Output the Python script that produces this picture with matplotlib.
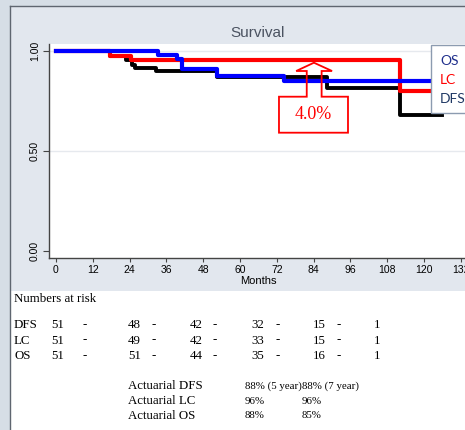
"""
Kaplan-Meier curves (DFS, LC, OS) with numbers at risk and actuarial rates.
"""
import matplotlib
matplotlib.use("Agg")
import matplotlib.pyplot as plt
from matplotlib.patches import Polygon, Rectangle

W, H = 465, 430

# survival steps (months, estimate)
os_t = [0, 33.3, 39.4, 41.0, 52.4, 74.4, 124]
os_s = [1.0, 0.982, 0.96, 0.912, 0.873, 0.848, 0.848]

lc_t = [0, 17.6, 24.3, 112.0, 122]
lc_s = [1.0, 0.976, 0.957, 0.80, 0.80]

dfs_t = [0, 17.6, 22.8, 24.7, 25.8, 32.5, 52.4, 88.5, 112.0, 126]
dfs_s = [1.0, 0.976, 0.955, 0.932, 0.915, 0.898, 0.872, 0.815, 0.678, 0.678]

month_ticks = list(range(0, 133, 12))
surv_ticks = [0.0, 0.5, 1.0]

legend_labels = ["OS", "LC", "DFS"]
legend_colors = ["#1F2F8C", "#FF0000", "#1F3864"]

risk_groups = ["DFS", "LC", "OS"]
risk_counts = [
    [51, 48, 42, 32, 15, 1],
    [51, 49, 42, 33, 15, 1],
    [51, 51, 44, 35, 16, 1],
]

act_labels = ["Actuarial DFS", "Actuarial LC", "Actuarial OS"]
act_col1 = ["88% (5 year)", "96%", "88%"]
act_col2 = ["88% (7 year)", "96%", "85%"]

callout_text = "4.0%"


def px(x, y):
    """pixel position (from top-left) -> figure fraction"""
    return x / W, 1 - y / H


fig = plt.figure(figsize=(W / 100, H / 100), dpi=100, facecolor="#D6DEE6")

# graph panel + white area underneath
fig.patches.append(Rectangle(px(10, 291), (W - 10) / W, (291 - 6) / H,
                             transform=fig.transFigure, facecolor="#E2E7EE",
                             edgecolor="none", zorder=-5))
fig.patches.append(Rectangle(px(10, H + 2), (W - 10) / W, (H + 2 - 291) / H,
                             transform=fig.transFigure, facecolor="white",
                             edgecolor="none", zorder=-5))
fig.lines.append(plt.Line2D([10 / W, 10 / W], [0, 1 - 6 / H], transform=fig.transFigure,
                            color="#5F6670", lw=1.0, zorder=-4))
fig.lines.append(plt.Line2D([10 / W, 1], [1 - 6 / H, 1 - 6 / H], transform=fig.transFigure,
                            color="#5F6670", lw=1.0, zorder=-4))

x0, y0 = px(49, 258)
ax = fig.add_axes([x0, y0, (467 - 49) / W, (258 - 44) / H])
ax.set_facecolor("white")
ax.set_xlim(-2.28, 134.0)
ax.set_ylim(-0.035, 1.035)

for y in (0.5, 1.0):
    ax.axhline(y, color="#E6E9EE", lw=1.0, zorder=1)

ax.step(dfs_t, dfs_s, where="post", color="black", lw=2.8, zorder=3)
ax.step(lc_t, lc_s, where="post", color="#FF0000", lw=3.0, zorder=4)
ax.step(os_t, os_s, where="post", color="#0000FF", lw=3.0, zorder=5)

ax.set_xticks(month_ticks)
ax.set_yticks(surv_ticks)
ax.set_yticklabels([f"{v:.2f}" for v in surv_ticks], rotation=90, va="center")
ax.tick_params(axis="x", length=3, width=0.8, colors="#444444", labelsize=7.5, pad=2,
               labelcolor="black")
ax.tick_params(axis="y", length=4.5, width=0.8, colors="#444444", labelsize=7.5, pad=2,
               labelcolor="black")
for lab in ax.get_xticklabels() + ax.get_yticklabels():
    lab.set_fontfamily("Liberation Sans")
ax.spines["top"].set_visible(False)
ax.spines["right"].set_visible(False)
for s in ("left", "bottom"):
    ax.spines[s].set_color("#444444")
    ax.spines[s].set_linewidth(1.0)

ax.set_xlabel("Months", fontsize=8, family="Liberation Sans", labelpad=1)
fig.text(*px(258, 33), "Survival", ha="center", va="center", fontsize=11,
         family="Liberation Sans", color="#4A5260")

# up-arrow callout pointing at the LC curve
callout = [(72.7, 0.5915), (95.2, 0.5915), (95.2, 0.7715), (86.6, 0.7715),
           (86.6, 0.90), (90.0, 0.90), (84.1, 0.9415), (78.3, 0.90),
           (81.75, 0.90), (81.75, 0.7715), (72.7, 0.7715)]
ax.add_patch(Polygon(callout, closed=True, fill=False, edgecolor="#FF0000",
                     lw=1.3, zorder=6, clip_on=False))
ax.text(83.95, 0.68, callout_text, ha="center", va="center", fontsize=13,
        family="Liberation Serif", color="#FF0000", zorder=7)

# legend box
fig.patches.append(Rectangle(px(431, 113), 40 / W, 68 / H, transform=fig.transFigure,
                             facecolor="white", edgecolor="#8C9BB0", lw=1.0, zorder=8))
for i, (lab, col) in enumerate(zip(legend_labels, legend_colors)):
    fig.text(*px(440, 61 + 19 * i), lab, ha="left", va="center", fontsize=10,
             family="Lato", color=col, zorder=9)

# numbers at risk
serif = "Liberation Serif"
fs = 9.3
fig.text(*px(14, 299), "Numbers at risk", ha="left", va="center", fontsize=fs, family=serif)
num_x = [51.7, 128, 190, 251.7, 313, 374.3]
dash_x = [82.7, 151.7, 213, 276, 336.7]
for r, (grp, counts) in enumerate(zip(risk_groups, risk_counts)):
    ry = 325 + 15.5 * r
    fig.text(*px(14, ry), grp, ha="left", va="center", fontsize=fs, family=serif)
    for xx, n in zip(num_x, counts):
        fig.text(*px(xx, ry), str(n), ha="left", va="center", fontsize=fs, family=serif)
    for xx in dash_x:
        fig.text(*px(xx, ry), "-", ha="left", va="center", fontsize=fs, family=serif)

for r, (lab, a, b) in enumerate(zip(act_labels, act_col1, act_col2)):
    ry = 386 + 15 * r
    fig.text(*px(128, ry), lab, ha="left", va="center", fontsize=fs, family=serif)
    fig.text(*px(245, ry), a, ha="left", va="center", fontsize=7.8, family=serif)
    fig.text(*px(301.7, ry), b, ha="left", va="center", fontsize=7.8, family=serif)

fig.savefig("out.png", dpi=100)
